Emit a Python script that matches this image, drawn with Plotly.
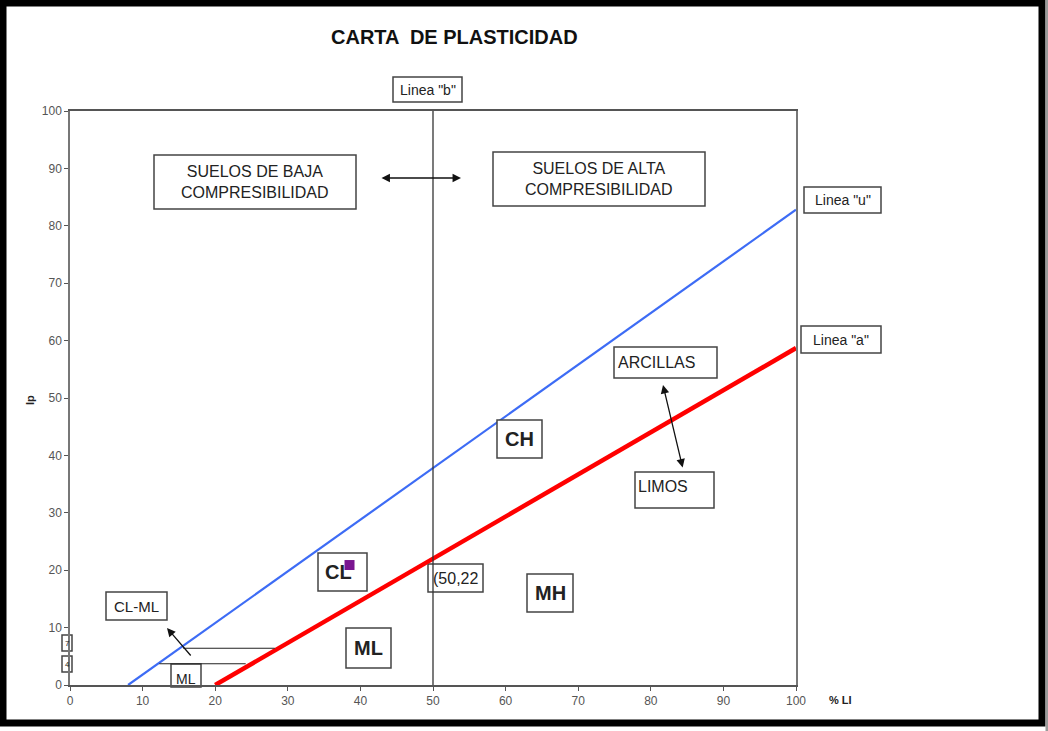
import plotly.graph_objects as go

# Carta de plasticidad (Casagrande)
# linea "U" y linea "A"
u_line_x = [8, 100]
u_line_y = [0, 82.8]
a_line_x = [20, 100]
a_line_y = [0, 58.7]
# linea "b" (limite liquido = 50)
b_line_x = [50, 50]
b_line_y = [0, 100.6]
# franja CL-ML (Ip entre 4 y 7)
band_upper_x = [15.6, 28.2]
band_upper_y = [6.4, 6.4]
band_lower_x = [12.3, 24.2]
band_lower_y = [3.7, 3.7]
# muestra ensayada
sample_ll = [38.5]
sample_ip = [20.9]

x_ticks = list(range(0, 101, 10))
y_ticks = list(range(0, 101, 10))

W, H = 1048, 731
L, R, T, B = 70, 796, 111, 685

NARROW = "Liberation Sans Narrow, Arial Narrow, Liberation Sans, Arial, sans-serif"
SANS = "Liberation Sans, Arial, sans-serif"


def px(x):
    return (x - L) / (R - L)


def py(y):
    return (B - y) / (B - T)


fig = go.Figure()

fig.add_trace(go.Scatter(x=u_line_x, y=u_line_y, mode="lines",
                         line=dict(color="#3d6cf5", width=2.2), hoverinfo="skip"))
fig.add_trace(go.Scatter(x=a_line_x, y=a_line_y, mode="lines",
                         line=dict(color="#ff0000", width=4.5), hoverinfo="skip"))
fig.add_trace(go.Scatter(x=b_line_x, y=b_line_y, mode="lines", cliponaxis=False,
                         line=dict(color="#333333", width=1.3), hoverinfo="skip"))
fig.add_trace(go.Scatter(x=band_upper_x, y=band_upper_y, mode="lines",
                         line=dict(color="#222222", width=1.2), hoverinfo="skip"))
fig.add_trace(go.Scatter(x=band_lower_x, y=band_lower_y, mode="lines",
                         line=dict(color="#222222", width=1.2), hoverinfo="skip"))
fig.add_trace(go.Scatter(x=sample_ll, y=sample_ip, mode="markers",
                         marker=dict(symbol="square", size=10, color="#7a1590"),
                         hoverinfo="x+y"))

shapes = []
annotations = []


def box(x0, y0, x1, y1, text, size=15, bold=False, font=NARROW, tx=None, ty=None,
        xanchor="center", fill="white", layer="below"):
    shapes.append(dict(type="rect", xref="paper", yref="paper",
                       x0=px(x0), x1=px(x1), y0=py(y0), y1=py(y1),
                       line=dict(color="#444444", width=1.5),
                       fillcolor=fill, layer=layer))
    if tx is None:
        tx = (x0 + x1) / 2
    if ty is None:
        ty = (y0 + y1) / 2
    if bold:
        text = "<b>" + text + "</b>"
    annotations.append(dict(xref="paper", yref="paper", x=px(tx), y=py(ty),
                            text=text, showarrow=False, xanchor=xanchor,
                            yanchor="middle",
                            font=dict(family=font, size=size, color="#222222")))


box(393, 77, 462, 102, 'Linea "b"', size=14)
box(154, 155, 356, 209, "SUELOS DE BAJA<br>COMPRESIBILIDAD", size=16)
box(493, 152, 705, 206, "SUELOS DE ALTA<br>COMPRESIBILIDAD", size=16)
box(804, 187, 881, 213, 'Linea "u"', size=14)
box(801, 326, 881, 353, 'Linea "a"', size=14)
box(614, 347, 717, 378, "ARCILLAS", size=16, tx=616, xanchor="left")
box(635, 472, 714, 508, "LIMOS", size=16, tx=636, ty=487, xanchor="left")
box(497, 420, 542, 458, "CH", size=20, bold=True, font=SANS, fill="white", layer="above")
box(527, 574, 573, 612, "MH", size=20, bold=True, font=SANS)
box(318, 553, 367, 591, "CL", size=20, bold=True, font=SANS, tx=338)
box(346, 628, 391, 668, "ML", size=20, bold=True, font=SANS)
box(428, 564, 483, 592, "(50,22", size=16, fill="rgba(0,0,0,0)", tx=455)
box(106, 592, 167, 620, "CL-ML", size=15)
box(62, 635, 72, 651, "7", size=8)
box(62, 656, 72, 672, "4", size=8)
box(171, 664, 201, 687, "ML", size=14, ty=679)


def arrow(hx, hy, tx, ty, both=False):
    annotations.append(dict(xref="paper", yref="paper", x=px(hx), y=py(hy),
                            ax=tx - hx, ay=ty - hy, text="", showarrow=True,
                            arrowhead=2, arrowsize=1.3, arrowwidth=1.3,
                            arrowcolor="#111111",
                            arrowside="end+start" if both else "end"))


arrow(461, 178, 380, 178, both=True)
arrow(663, 385, 683, 469, both=True)
arrow(167, 628, 192, 657)

annotations.append(dict(xref="paper", yref="paper", x=px(454), y=py(37),
                        xanchor="center", yanchor="middle",
                        text="<b>CARTA  DE PLASTICIDAD</b>", showarrow=False,
                        font=dict(family=NARROW, size=20, color="#111111")))
annotations.append(dict(xref="paper", yref="paper", x=px(30), y=py(400),
                        xanchor="center", yanchor="middle",
                        text="<b>Ip</b>", showarrow=False, textangle=-90,
                        font=dict(family=SANS, size=11, color="#222222")))
annotations.append(dict(xref="paper", yref="paper", x=px(840), y=py(700),
                        xanchor="center", yanchor="middle",
                        text="<b>% LI</b>", showarrow=False,
                        font=dict(family=SANS, size=11, color="#222222")))

# marco exterior
shapes.append(dict(type="rect", xref="paper", yref="paper",
                   x0=px(3), x1=px(1042), y0=py(3), y1=py(723),
                   line=dict(color="#000000", width=7), layer="above"))
shapes.append(dict(type="rect", xref="paper", yref="paper",
                   x0=px(1045.5), x1=px(1048), y0=py(0), y1=py(731),
                   line=dict(width=0), fillcolor="#9a9a9a", layer="above"))

fig.update_layout(
    width=W, height=H,
    margin=dict(l=L, r=W - R, t=T, b=H - B),
    paper_bgcolor="white", plot_bgcolor="white",
    showlegend=False,
    shapes=shapes, annotations=annotations,
    xaxis=dict(range=[0, 100], tickvals=x_ticks, showgrid=False, zeroline=False,
               showline=True, linecolor="#555555", linewidth=1.5, mirror=True,
               ticks="outside", ticklen=4, tickcolor="#555555",
               tickfont=dict(family=NARROW, size=12, color="#555555")),
    yaxis=dict(range=[0, 100], tickvals=y_ticks, showgrid=False, zeroline=False,
               showline=True, linecolor="#777777", linewidth=1.5, mirror=True,
               ticks="outside", ticklen=4, tickcolor="#555555",
               tickfont=dict(family=NARROW, size=12, color="#555555")),
)

# sin margen de pagina, para que el marco quede en el borde de la ventana
fig.write_html("out.html", config={"displayModeBar": False},
               post_script="document.body.style.margin='0';")
